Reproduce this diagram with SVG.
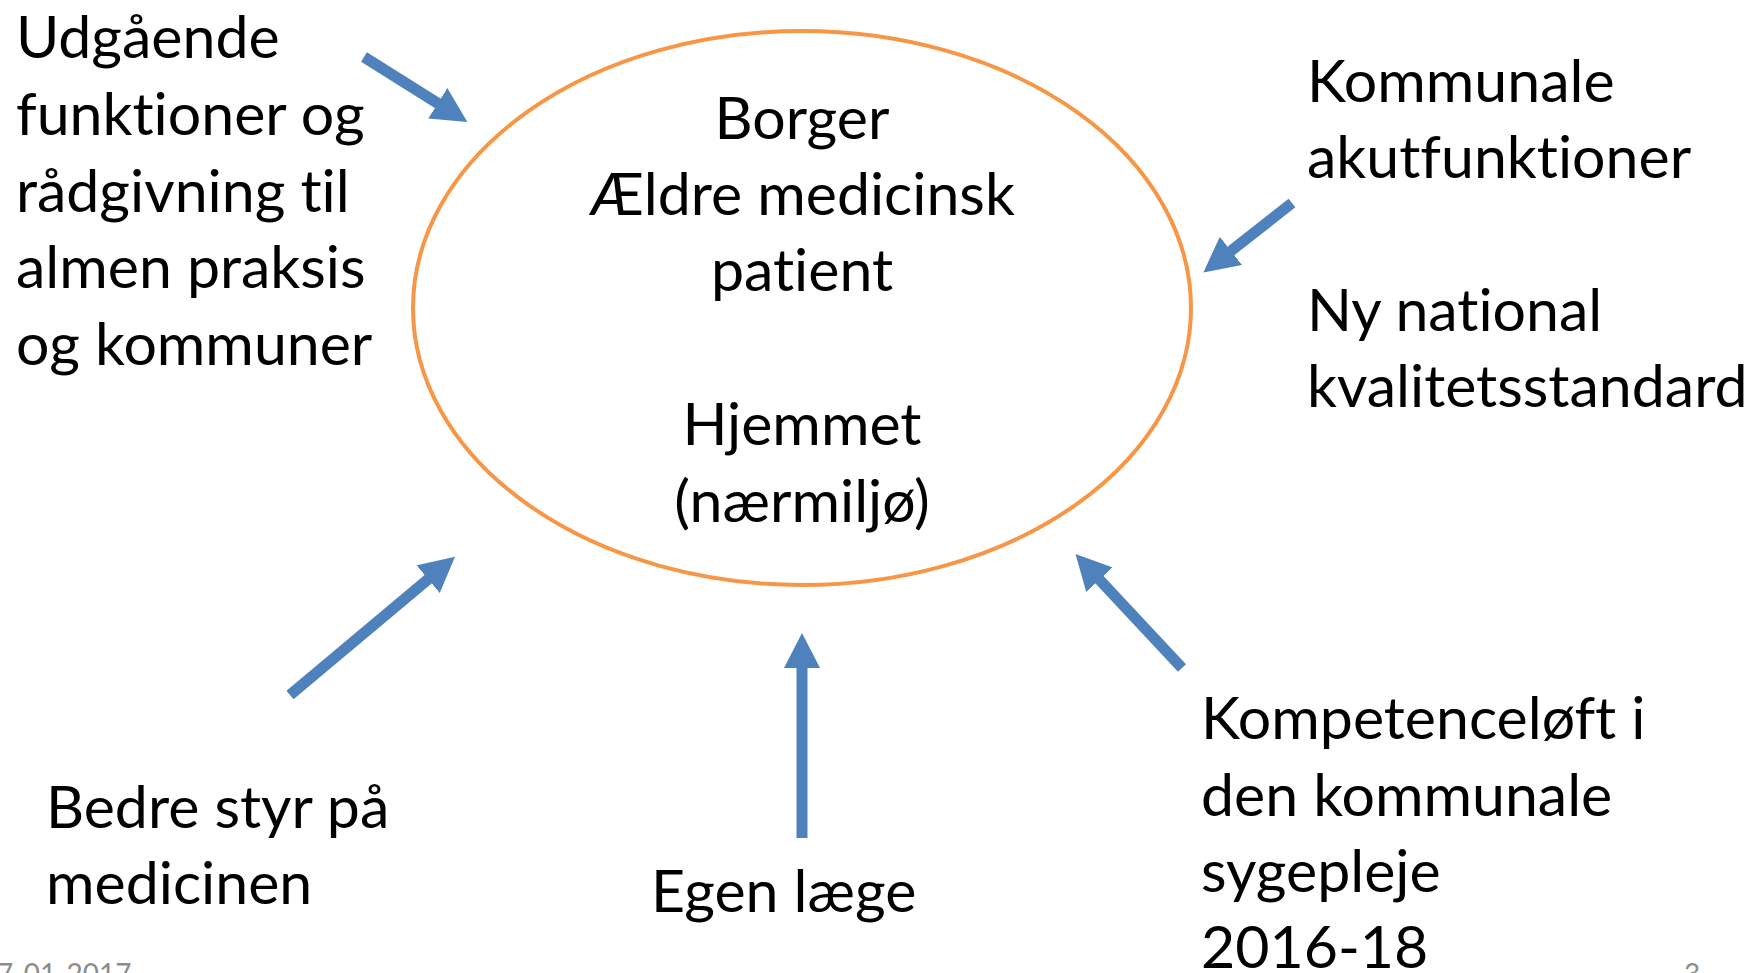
<svg xmlns="http://www.w3.org/2000/svg" width="1755" height="973" viewBox="0 0 1755 973">
<style>
.t{font-family:Lato,"Liberation Sans",sans-serif;font-size:59px;fill:#000;font-variant-ligatures:none}
.m{text-anchor:middle}
.f{font-family:Lato,"Liberation Sans",sans-serif;font-size:28px;fill:#8c8c8c}
.a{stroke:#4F81BD;stroke-width:11;fill:none;marker-end:url(#h)}
</style>
<defs>
<marker id="h" markerUnits="userSpaceOnUse" markerWidth="36" markerHeight="36" viewBox="0 0 36 36" refX="5" refY="18" orient="auto">
<path d="M0,0 L35,18 L0,36 Z" fill="#4F81BD"/>
</marker>
</defs>
<rect width="1755" height="973" fill="#fff"/>
<g id="center">
<ellipse cx="802" cy="308" rx="389" ry="277" fill="none" stroke="#F79646" stroke-width="4"/>
<text class="t m" x="802" y="139">Borger</text>
<text class="t m" x="802" y="215">Ældre medicinsk</text>
<text class="t m" x="802" y="291">patient</text>
<text class="t m" x="802" y="445">Hjemmet</text>
<text class="t m" x="802" y="522">(nærmiljø)</text>
</g>
<g id="n-udgaaende">
<text class="t" x="16" y="58">Udgående</text>
<text class="t" x="16" y="135">funktioner og</text>
<text class="t" x="16" y="212">rådgivning til</text>
<text class="t" x="16" y="288">almen praksis</text>
<text class="t" x="16" y="365">og kommuner</text>
</g>
<g id="n-kommunale">
<text class="t" x="1307" y="102">Kommunale</text>
<text class="t" x="1307" y="178">akutfunktioner</text>
<text class="t" x="1307" y="331">Ny national</text>
<text class="t" x="1307" y="407">kvalitetsstandard</text>
</g>
<g id="n-kompetence">
<text class="t" x="1201" y="739">Kompetenceløft i</text>
<text class="t" x="1201" y="816">den kommunale</text>
<text class="t" x="1201" y="892">sygepleje</text>
<text class="t" x="1201" y="968">2016-18</text>
</g>
<g id="n-bedre">
<text class="t" x="46" y="828">Bedre styr på</text>
<text class="t" x="46" y="904">medicinen</text>
</g>
<g id="n-egen">
<text class="t" x="651" y="912">Egen læge</text>
</g>
<g id="footer">
<text class="f" x="-3" y="984">7-01-2017</text>
<text class="f" x="1684" y="984">3</text>
</g>
<g id="connectors">
<line class="a" x1="364" y1="57" x2="442" y2="106"/>
<line class="a" x1="1292" y1="203" x2="1227" y2="254"/>
<line class="a" x1="290" y1="695" x2="432" y2="576"/>
<line class="a" x1="1182" y1="668" x2="1096" y2="576"/>
<line class="a" x1="802" y1="838" x2="802" y2="663"/>
</g>
</svg>
